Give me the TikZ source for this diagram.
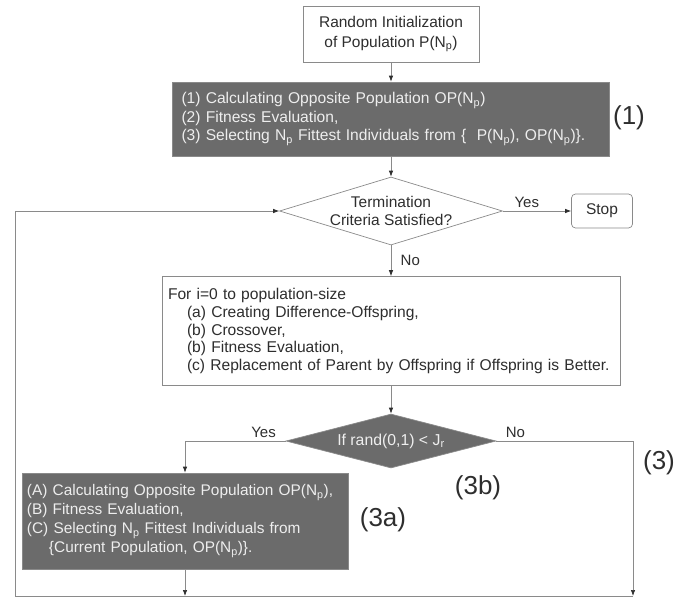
\documentclass[tikz,border=0pt]{standalone}
\usepackage{fontspec}
\setmainfont{Liberation Sans}
\usetikzlibrary{shapes.geometric,arrows.meta}
\definecolor{boxgray}{HTML}{6B6B6B}
\definecolor{linegray}{HTML}{8A8A8A}
\definecolor{textgray}{HTML}{2E2E2E}
\definecolor{lighttext}{HTML}{EEEEEE}
\newcommand{\Np}{N\textsubscript{p}}

\begin{document}
\begin{tikzpicture}[x=1pt,y=-1pt,
    plainbox/.style={draw=linegray,fill=white,text=textgray,inner sep=0pt},
    darkbox/.style={draw=linegray,fill=boxgray,text=lighttext,inner sep=0pt},
    decision/.style={diamond,draw=linegray,inner sep=0pt},
    boxtext/.style={font=\fontsize{15.6}{18.5}\selectfont},
    smalltext/.style={text=textgray,font=\fontsize{15}{18}\selectfont},
    steplabel/.style={text=textgray,font=\fontsize{26}{30}\selectfont},
    ->,>={Latex[length=6pt,width=4.5pt,color=textgray]},line width=0.7pt,color=linegray]
  \useasboundingbox (0,0) rectangle (691,598);
  % boxes down the middle
  \node[plainbox,minimum width=176pt,minimum height=56pt,align=center,
        font=\fontsize{15.5}{20}\selectfont] (init) at (391,34)
        {Random Initialization\\of Population P(\Np)};
  \node[darkbox,boxtext,minimum width=437pt,minimum height=74pt,
        text width=419pt,align=left] (ops1) at (391,119)
        {(1) Calculating Opposite Population OP(\Np)\\
         (2) Fitness Evaluation,\\
         (3) Selecting \Np{} Fittest Individuals from \{\ \ P(\Np), OP(\Np)\}.};
  \node[decision,minimum width=223pt,minimum height=68pt] (term) at (391,211) {};
  \node[smalltext,align=center,font=\fontsize{15.5}{18}\selectfont] (termtext) at (term)
        {Termination\\Criteria Satisfied?};
  \node[plainbox,rounded corners=4pt,minimum width=61pt,minimum height=34pt,
        font=\fontsize{15.5}{18}\selectfont] (stop) at (602,211) {Stop};
  \node[plainbox,minimum width=458pt,minimum height=109pt,text width=446pt,
        align=left,font=\fontsize{15.6}{17.8}\selectfont] (loop) at (391,331)
        {For i=0 to population-size\\
         \hspace*{19pt}(a) Creating Difference-Offspring,\\
         \hspace*{19pt}(b) Crossover,\\
         \hspace*{19pt}(b) Fitness Evaluation,\\
         \hspace*{19pt}(c) Replacement of Parent by Offspring if Offspring is Better.};
  \node[decision,fill=boxgray,minimum width=210pt,minimum height=54pt] (rand) at (391,441) {};
  \node[text=lighttext,font=\fontsize{15.8}{18}\selectfont] (randtext) at (rand)
        {If rand(0,1) {<} J\textsubscript{r}};
  \node[darkbox,font=\fontsize{15.4}{19}\selectfont,minimum width=326pt,
        minimum height=96pt,text width=316pt,align=left] (ops3a) at (185,521)
        {(A) Calculating Opposite Population OP(\Np),\\
         (B) Fitness Evaluation,\\
         (C) Selecting \Np{} Fittest Individuals from\\
         \hspace*{22pt}\{Current Population, OP(\Np)\}.};
  % step labels
  \node[steplabel] (lblone) at (629,118) {(1)};
  \node[steplabel] (lblthreea) at (383,520) {(3a)};
  \node[steplabel] (lblthreeb) at (478,488) {(3b)};
  \node[steplabel] (lblthree) at (659,463) {(3)};
  % corners of the return path
  \coordinate (botleft) at (15,596);
  \coordinate (botmid) at (185,596);
  \coordinate (botright) at (633,596);
  \draw (init) -- (ops1);
  \draw (ops1) -- (term);
  \draw (term) -- node[smalltext,above,pos=0.35] (yesone) {Yes} (stop);
  \draw (term) -- node[smalltext,right,xshift=6pt] (noone) {No} (loop);
  \draw (loop) -- (rand);
  \draw (rand.west) -| node[smalltext,above,pos=0.11] (yestwo) {Yes} (ops3a.north);
  \draw (rand.east) -| node[smalltext,above,pos=0.07] (notwo) {No} (botright);
  \draw (ops3a) -- (botmid);
  \draw (botright) -- (botleft) |- (term.west);
\end{tikzpicture}
\end{document}
